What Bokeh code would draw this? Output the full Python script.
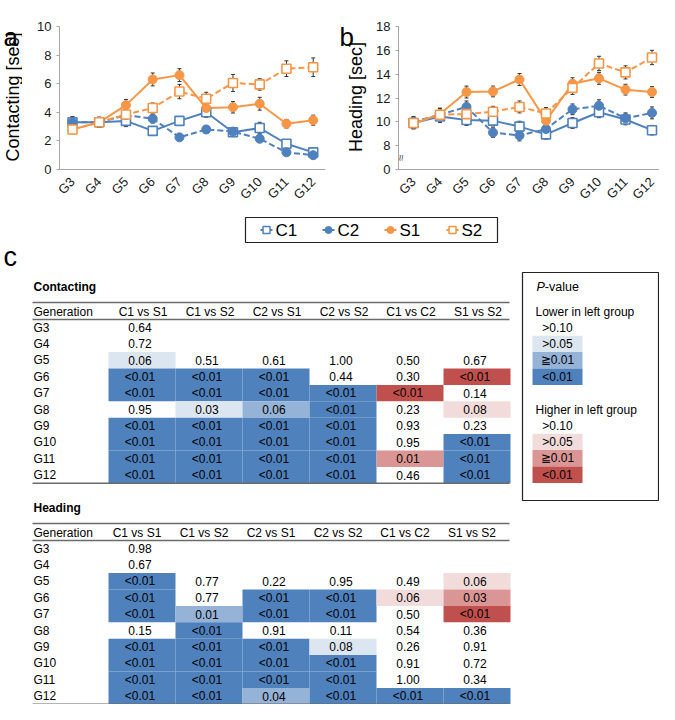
import math
from bokeh.plotting import figure
from bokeh.models import Range1d, FixedTicker, Whisker, TeeHead, ColumnDataSource
from bokeh.layouts import column, row
from bokeh.embed import file_html
from bokeh.resources import INLINE
from bokeh.core.properties import value

FONT = "Liberation Sans"
BLUE = "#4F81BD"
ORANGE = "#F79646"

# ---------------- data ----------------
generations = ["G3", "G4", "G5", "G6", "G7", "G8", "G9", "G10", "G11", "G12"]
groups = ["C1", "C2", "S1", "S2"]

contact_C1 = [3.3, 3.3, 3.4, 2.7, 3.4, 4.0, 2.6, 2.9, 1.8, 1.2]
contact_C1_err = [0.4, 0.35, 0.4, 0.25, 0.3, 0.35, 0.3, 0.4, 0.3, 0.2]
contact_C2 = [3.3, 3.3, 3.8, 3.55, 2.25, 2.8, 2.65, 2.15, 1.2, 1.0]
contact_C2_err = [0.35, 0.3, 0.35, 0.3, 0.2, 0.25, 0.25, 0.25, 0.2, 0.15]
contact_S1 = [2.8, 3.3, 4.5, 6.3, 6.6, 4.3, 4.35, 4.6, 3.2, 3.45]
contact_S1_err = [0.25, 0.35, 0.4, 0.45, 0.45, 0.4, 0.4, 0.45, 0.3, 0.35]
contact_S2 = [2.8, 3.3, 3.85, 4.3, 5.45, 4.95, 6.05, 5.95, 7.05, 7.15]
contact_S2_err = [0.3, 0.35, 0.35, 0.35, 0.5, 0.45, 0.6, 0.4, 0.55, 0.65]

head_C1 = [9.9, 10.45, 10.15, 10.1, 9.6, 8.95, 9.9, 10.8, 10.2, 9.3]
head_C1_err = [0.45, 0.5, 0.45, 0.45, 0.45, 0.4, 0.45, 0.45, 0.45, 0.4]
head_C2 = [10.0, 10.6, 11.25, 9.1, 8.85, 9.4, 11.05, 11.35, 10.3, 10.75]
head_C2_err = [0.45, 0.5, 0.5, 0.4, 0.45, 0.45, 0.45, 0.5, 0.45, 0.5]
head_S1 = [9.85, 10.65, 12.5, 12.55, 13.55, 10.1, 13.2, 13.65, 12.7, 12.5]
head_S1_err = [0.45, 0.5, 0.5, 0.45, 0.5, 0.45, 0.5, 0.5, 0.45, 0.45]
head_S2 = [9.9, 10.6, 10.65, 10.85, 11.25, 10.7, 12.85, 14.9, 14.15, 15.4]
head_S2_err = [0.45, 0.5, 0.5, 0.45, 0.5, 0.5, 0.55, 0.6, 0.55, 0.6]

contact_ticks = [0, 2, 4, 6, 8, 10]
head_ticks = [6, 8, 10, 12, 14, 16, 18]
head_tick_labels = ["0", "8", "10", "12", "14", "16", "18"]

comparisons = ["C1 vs S1", "C1 vs S2", "C2 vs S1", "C2 vs S2", "C1 vs C2", "S1 vs S2"]

# Contacting p-values (per comparison column, G3..G12) and their shading class
c_C1S1 = ["0.64", "0.72", "0.06", "<0.01", "<0.01", "0.95", "<0.01", "<0.01", "<0.01", "<0.01"]
c_C1S2 = ["", "", "0.51", "<0.01", "<0.01", "0.03", "<0.01", "<0.01", "<0.01", "<0.01"]
c_C2S1 = ["", "", "0.61", "<0.01", "<0.01", "0.06", "<0.01", "<0.01", "<0.01", "<0.01"]
c_C2S2 = ["", "", "1.00", "0.44", "<0.01", "<0.01", "<0.01", "<0.01", "<0.01", "<0.01"]
c_C1C2 = ["", "", "0.50", "0.30", "<0.01", "0.23", "0.93", "0.95", "0.01", "0.46"]
c_S1S2 = ["", "", "0.67", "<0.01", "0.14", "0.08", "0.23", "<0.01", "<0.01", "<0.01"]
c_C1S1_sig = ["", "", "L1", "L3", "L3", "", "L3", "L3", "L3", "L3"]
c_C1S2_sig = ["", "", "", "L3", "L3", "L1", "L3", "L3", "L3", "L3"]
c_C2S1_sig = ["", "", "", "L3", "L3", "L2", "L3", "L3", "L3", "L3"]
c_C2S2_sig = ["", "", "", "", "L3", "L3", "L3", "L3", "L3", "L3"]
c_C1C2_sig = ["", "", "", "", "H3", "", "", "", "H2", ""]
c_S1S2_sig = ["", "", "", "H3", "", "H1", "", "L3", "L3", "L3"]

# Heading p-values
h_C1S1 = ["0.98", "0.67", "<0.01", "<0.01", "<0.01", "0.15", "<0.01", "<0.01", "<0.01", "<0.01"]
h_C1S2 = ["", "", "0.77", "0.77", "0.01", "<0.01", "<0.01", "<0.01", "<0.01", "<0.01"]
h_C2S1 = ["", "", "0.22", "<0.01", "<0.01", "0.91", "<0.01", "<0.01", "<0.01", "0.04"]
h_C2S2 = ["", "", "0.95", "<0.01", "<0.01", "0.11", "0.08", "<0.01", "<0.01", "<0.01"]
h_C1C2 = ["", "", "0.49", "0.06", "0.50", "0.54", "0.26", "0.91", "1.00", "<0.01"]
h_S1S2 = ["", "", "0.06", "0.03", "<0.01", "0.36", "0.91", "0.72", "0.34", "<0.01"]
h_C1S1_sig = ["", "", "L3", "L3", "L3", "", "L3", "L3", "L3", "L3"]
h_C1S2_sig = ["", "", "", "", "L2", "L3", "L3", "L3", "L3", "L3"]
h_C2S1_sig = ["", "", "", "L3", "L3", "", "L3", "L3", "L3", "L2"]
h_C2S2_sig = ["", "", "", "L3", "L3", "", "L1", "L3", "L3", "L3"]
h_C1C2_sig = ["", "", "", "H1", "", "", "", "", "", "L3"]
h_S1S2_sig = ["", "", "H1", "H2", "H3", "", "", "", "", "L3"]

key_labels = [">0.10", ">0.05", "\u22670.01", "<0.01"]
key_lower = ["", "L1", "L2", "L3"]
key_higher = ["", "H1", "H2", "H3"]

SIG_COLORS = {"L1": "#DCE6F1", "L2": "#95B3D7", "L3": "#4F81BD",
              "H1": "#F2DCDB", "H2": "#DA9694", "H3": "#C0504D"}

TOP_H = 210


def txt(p, x, y, t, size="12px", align="left", style="normal", color="#000000",
        angle=0.0, baseline="middle"):
    p.text(x=x, y=y, text=t, text_font=value(FONT), text_font_size=size,
           text_align=align, text_baseline=baseline, text_font_style=style,
           text_color=color, angle=angle)


def blank_fig(width, height):
    p = figure(width=width, height=height, x_range=Range1d(0, width), y_range=Range1d(0, height),
               output_backend="svg", toolbar_location=None, min_border=0,
               x_axis_location=None, y_axis_location=None)
    p.outline_line_color = None
    p.xgrid.visible = False
    p.ygrid.visible = False
    return p


def label_strip(width, letter, letter_x, letter_mid, ylabel, ylabel_x, ylabel_cy):
    # narrow strip holding the panel letter and the y-axis title
    p = blank_fig(width, TOP_H)
    txt(p, [letter_x], [TOP_H - letter_mid], [letter], size="26px")
    txt(p, [ylabel_x], [TOP_H - ylabel_cy], [ylabel], size="18px", align="center",
        angle=math.pi / 2)
    return p


def line_panel(width, bl, br, xr, yr, ticks, tick_labels, series):
    bt, bb = 26, TOP_H - 172
    p = figure(width=width, height=TOP_H, x_range=Range1d(*xr), y_range=Range1d(*yr),
               output_backend="svg", toolbar_location=None,
               min_border_left=bl, min_border_right=br, min_border_top=bt, min_border_bottom=bb)
    p.outline_line_color = None
    p.xgrid.visible = False
    p.ygrid.visible = False
    p.xaxis.ticker = FixedTicker(ticks=list(range(len(generations))))
    p.xaxis.major_label_overrides = {i: g for i, g in enumerate(generations)}
    p.xaxis.major_label_orientation = math.pi / 4
    p.xaxis.minor_tick_line_color = None
    p.yaxis.ticker = FixedTicker(ticks=ticks)
    p.yaxis.major_label_overrides = {t: l for t, l in zip(ticks, tick_labels)}
    p.yaxis.minor_tick_line_color = None
    p.yaxis.major_tick_out = 3
    p.yaxis.major_tick_in = 0
    p.yaxis.major_label_standoff = 5
    p.xaxis.major_label_standoff = 4
    for ax in (p.xaxis, p.yaxis):
        ax.axis_line_color = "#A6A6A6"
        ax.major_tick_line_color = "#A6A6A6"
        ax.major_label_text_font = FONT
        ax.major_label_text_font_size = "13px"
        ax.major_label_text_color = "#1a1a1a"
    p.xaxis.major_tick_line_color = None

    xs = list(range(len(generations)))
    for vals, errs, color, dash, marker in series:
        src = ColumnDataSource(dict(x=xs, y=vals,
                                    upper=[v + e for v, e in zip(vals, errs)],
                                    lower=[v - e for v, e in zip(vals, errs)]))
        w = Whisker(base="x", upper="upper", lower="lower", source=src,
                    line_color="#333333", line_width=1,
                    upper_head=TeeHead(size=4, line_color="#333333", line_width=1),
                    lower_head=TeeHead(size=4, line_color="#333333", line_width=1))
        p.add_layout(w)
        p.line("x", "y", source=src, line_color=color, line_width=2, line_dash=dash)
    for vals, errs, color, dash, marker in series:
        if marker == "square":
            p.scatter(xs, vals, marker="square", size=9, fill_color="white",
                      line_color=color, line_width=1.6)
        else:
            p.scatter(xs, vals, marker="circle", size=9, fill_color=color,
                      line_color=color, line_width=1)
    return p


series_a = [
    (contact_C1, contact_C1_err, BLUE, "solid", "square"),
    (contact_C2, contact_C2_err, BLUE, "6 3", "circle"),
    (contact_S1, contact_S1_err, ORANGE, "solid", "circle"),
    (contact_S2, contact_S2_err, ORANGE, "6 3", "square"),
]
series_b = [
    (head_C1, head_C1_err, BLUE, "solid", "square"),
    (head_C2, head_C2_err, BLUE, "6 3", "circle"),
    (head_S1, head_S1_err, ORANGE, "solid", "circle"),
    (head_S2, head_S2_err, ORANGE, "6 3", "square"),
]

la = label_strip(22, "a", 3, 15, "Contacting [sec]", 12.5, 103.5)
pa = line_panel(316, 37, 13, (-0.485, 9.46), (0, 10), contact_ticks,
                [str(t) for t in contact_ticks], series_a)
lb = label_strip(32, "b", 1, 15, "Heading [sec]", 17, 103.5)
pb = line_panel(289, 28, 0, (-0.566, 9.283), (6, 18), head_ticks, head_tick_labels, series_b)
# axis break mark on the Heading axis
pb.text(x=[-0.46], y=[7.0], text=["\u2248"], text_font=value(FONT), text_font_size="12px",
        text_color="#555555", angle=math.pi / 2, text_align="center", text_baseline="middle")

# ---------------- bottom panel: legend + tables ----------------
BOT_Y0, BOT_H = TOP_H, 494
pc = figure(width=659, height=BOT_H, x_range=Range1d(0, 659),
            y_range=Range1d(BOT_Y0 + BOT_H, BOT_Y0),
            output_backend="svg", toolbar_location=None, min_border=0,
            x_axis_location=None, y_axis_location=None)
pc.outline_line_color = None
pc.xgrid.visible = False
pc.ygrid.visible = False

# series legend
pc.quad(left=[245], right=[497], top=[217], bottom=[242], fill_color=None,
        line_color="#222222", line_width=1.2)
leg_colors = [BLUE, BLUE, ORANGE, ORANGE]
leg_markers = ["square", "circle", "circle", "square"]
for i, (g, c, m) in enumerate(zip(groups, leg_colors, leg_markers)):
    x0 = 260 + 62 * i
    pc.line([x0, x0 + 12], [229.5, 229.5], line_color=c, line_width=2)
    if m == "square":
        pc.scatter([x0 + 6], [229.5], marker="square", size=7, fill_color="white",
                   line_color=c, line_width=1.5)
    else:
        pc.scatter([x0 + 6], [229.5], marker="circle", size=7, fill_color=c, line_color=c)
    txt(pc, [x0 + 15], [230], [g], size="17px")

# panel letter c
txt(pc, [3], [256], ["c"], size="27px")

CELL_X0, CELL_W, ROW_H = 108, 67, 16.4


def draw_table(p, title, y_title, vcols, scols, header_dx):
    top_line = y_title + 16
    header_y = y_title + 25
    head_line = y_title + 33
    row0 = y_title + 41
    bottom_line = row0 + (len(generations) - 1) * ROW_H + ROW_H / 2
    txt(p, [33], [y_title], [title], style="bold")
    L, R, T, B, C = [], [], [], [], []
    vx, vy, vt = [], [], []
    for ci, (vals, sigs) in enumerate(zip(vcols, scols)):
        left = CELL_X0 + ci * CELL_W
        for ri, (v, s) in enumerate(zip(vals, sigs)):
            yc = row0 + ri * ROW_H
            if s:
                L.append(left); R.append(left + CELL_W)
                T.append(yc - ROW_H / 2); B.append(yc + ROW_H / 2)
                C.append(SIG_COLORS[s])
            if v:
                vx.append(left + CELL_W / 2 - 2); vy.append(yc); vt.append(v)
    p.quad(left=L, right=R, top=T, bottom=B, fill_color=C, line_color=None)
    ys = [top_line, head_line, bottom_line]
    p.segment(x0=[32] * 3, x1=[509] * 3, y0=ys, y1=ys, line_color="#6b6b6b", line_width=1.6)
    txt(p, [33], [header_y], ["Generation"])
    txt(p, [CELL_X0 + CELL_W * (i + 0.5) + header_dx for i in range(len(comparisons))],
        [header_y] * len(comparisons), comparisons, align="center")
    txt(p, [33] * len(generations), [row0 + i * ROW_H for i in range(len(generations))],
        generations)
    txt(p, vx, vy, vt, align="center")


draw_table(pc, "Contacting", 286,
           [c_C1S1, c_C1S2, c_C2S1, c_C2S2, c_C1C2, c_S1S2],
           [c_C1S1_sig, c_C1S2_sig, c_C2S1_sig, c_C2S2_sig, c_C1C2_sig, c_S1S2_sig], 1)
draw_table(pc, "Heading", 507,
           [h_C1S1, h_C1S2, h_C2S1, h_C2S2, h_C1C2, h_S1S2],
           [h_C1S1_sig, h_C1S2_sig, h_C2S1_sig, h_C2S2_sig, h_C1C2_sig, h_S1S2_sig], -5)

# P-value key box
KX = 522
pc.quad(left=[KX], right=[KX + 136], top=[272], bottom=[500], fill_color=None,
        line_color="#222222", line_width=1.2)
txt(pc, [KX + 14], [286], ["P"], size="12.5px", style="italic")
txt(pc, [KX + 22.3], [286], ["-value"], size="12.5px")
for title, sigs, ty in (("Lower in left group", key_lower, 311),
                        ("Higher in left group", key_higher, 409)):
    txt(pc, [KX + 13], [ty], [title])
    L, R, T, B, C = [], [], [], [], []
    for i, s in enumerate(sigs):
        yc = ty + 16 + i * ROW_H
        if s:
            L.append(KX + 10); R.append(KX + 60)
            T.append(yc - ROW_H / 2); B.append(yc + ROW_H / 2)
            C.append(SIG_COLORS[s])
    pc.quad(left=L, right=R, top=T, bottom=B, fill_color=C, line_color=None)
    txt(pc, [KX + 35] * len(key_labels), [ty + 16 + i * ROW_H for i in range(len(key_labels))],
        key_labels, align="center")

layout = column(row(la, pa, lb, pb), pc)
open("out.html", "w").write(file_html(layout, INLINE))
